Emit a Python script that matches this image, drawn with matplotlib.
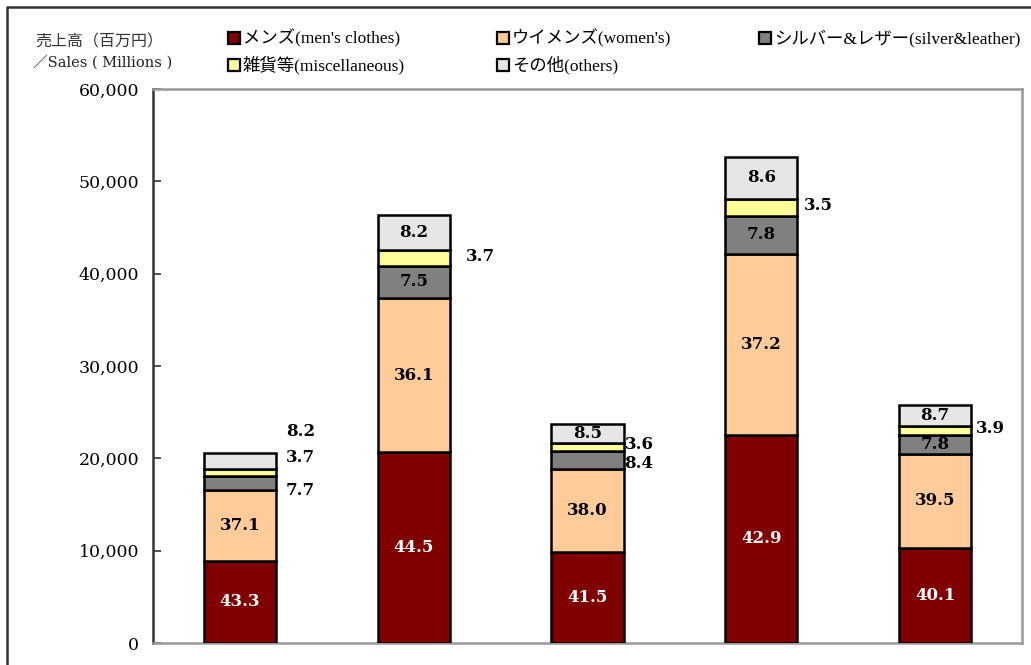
import matplotlib
matplotlib.use('Agg')
import matplotlib.pyplot as plt
from matplotlib.patches import Rectangle
from matplotlib.lines import Line2D
import numpy as np

plt.rcParams['font.family'] = ['DejaVu Serif', 'Noto Sans CJK JP']

# 区分
categories = ['メンズ(men\'s clothes)', 'ウイメンズ(women\'s)', 'シルバー&レザー(silver&leather)',
              '雑貨等(miscellaneous)', 'その他(others)']
colors = ['#800000', '#FFCC99', '#808080', '#FFFF99', '#E6E6E6']

# 売上高（百万円） 各バーの区分別
mens = [8910, 20650, 9840, 22580, 10340]
womens = [7640, 16750, 9010, 19580, 10180]
silver = [1580, 3480, 1990, 4110, 2010]
misc = [760, 1720, 850, 1840, 1010]
others = [1690, 3800, 2020, 4530, 2240]

# 構成比(%)
pct_mens = [43.3, 44.5, 41.5, 42.9, 40.1]
pct_womens = [37.1, 36.1, 38.0, 37.2, 39.5]
pct_silver = [7.7, 7.5, 8.4, 7.8, 7.8]
pct_misc = [3.7, 3.7, 3.6, 3.5, 3.9]
pct_others = [8.2, 8.2, 8.5, 8.6, 8.7]

series = [mens, womens, silver, misc, others]
pcts = [pct_mens, pct_womens, pct_silver, pct_misc, pct_others]

# バー外に置くラベル: (bar, series) -> (バー右端からの間隔 px, 高さ)
outside = {
    (0, 2): (10, 16570), (0, 3): (10, 20040), (0, 4): (10, 22960),
    (1, 3): (16, 41810),
    (2, 2): (1, 19390), (2, 3): (1, 21550),
    (3, 3): (7, 47330),
    (4, 3): (5, 23180),
}

fig = plt.figure(figsize=(10.31, 6.65), dpi=100)
ax = fig.add_axes([153 / 1031, 22 / 665, 869 / 1031, 554 / 665])
px_per_unit = 869 / 5.0

x = np.arange(len(mens))
width = 0.415
bottom = np.zeros(len(mens))
for si, vals in enumerate(series):
    vals = np.array(vals, dtype=float)
    ax.bar(x, vals, width, bottom=bottom, color=colors[si], edgecolor='black',
           linewidth=1.8, zorder=3)
    for i in range(len(vals)):
        if (i, si) in outside:
            gap, ty = outside[(i, si)]
            tx, ha = x[i] + width / 2 + gap / px_per_unit, 'left'
        else:
            tx, ty, ha = x[i], bottom[i] + vals[i] / 2, 'center'
        ax.text(tx, ty, f'{pcts[si][i]:.1f}', ha=ha, va='center', fontsize=12,
                fontweight='bold', color='white' if si == 0 else 'black', zorder=5)
    bottom += vals

ax.set_xlim(-0.5, 4.5)
ax.set_ylim(0, 60000)
ax.set_yticks(np.arange(0, 60001, 10000))
ax.set_yticklabels([f'{v:,}' for v in range(0, 60001, 10000)], fontsize=12.5)
ax.set_xticks([])
ax.tick_params(axis='y', direction='in', length=6, width=1.2, color='#333333', pad=10)
ax.spines['left'].set_color('#333333')
ax.spines['left'].set_linewidth(1.8)
for s in ['top', 'right', 'bottom']:
    ax.spines[s].set_color('#999999')
    ax.spines[s].set_linewidth(1.8)

# y軸タイトル
fig.text(35 / 1031, 1 - 42 / 665, '売上高（百万円）', fontsize=11.5, color='#333333',
         va='center', family=['Noto Sans CJK JP'])
fig.text(33 / 1031, 1 - 62 / 665, '／Sales ( Millions )', fontsize=10.5, color='#222222',
         va='center', family=['DejaVu Serif', 'Noto Sans CJK JP'])

# 凡例
leg_pos = [(234, 38), (503, 38), (765, 38), (234, 65), (503, 65)]
for (px, py), lab, col in zip(leg_pos, categories, colors):
    fig.patches.append(Rectangle(((px - 6) / 1031, 1 - (py + 6) / 665), 12 / 1031, 12 / 665,
                                 facecolor=col, edgecolor='black', linewidth=1.6,
                                 transform=fig.transFigure, figure=fig))
    fig.text((px + 9) / 1031, 1 - py / 665, lab, fontsize=12.5, va='center',
             family=['Liberation Serif', 'Noto Sans CJK JP'])

# 外枠
fig.add_artist(Line2D([7 / 1031, 7 / 1031, 1], [0, 1 - 7 / 665, 1 - 7 / 665],
                      transform=fig.transFigure, color='#333333', linewidth=1.8))

fig.savefig('out.png', dpi=100)
